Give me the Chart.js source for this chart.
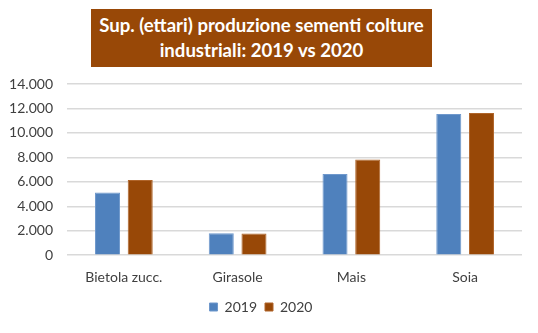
<!DOCTYPE html>
<html>
<head>
<meta charset="utf-8">
<script src="https://cdn.jsdelivr.net/npm/chart.js@4"></script>
<style>
    html, body { margin: 0; padding: 0; background: #fff; }
    .wrap { position: relative; width: 538px; height: 333px; }
    .titolo {
        position: absolute; left: 91px; top: 9px; width: 341px; height: 58px;
        background: #984807; color: #fff;
        font-family: Lato, "Open Sans", sans-serif; font-weight: bold; font-size: 18.6px;
        line-height: 25px; text-align: center;
        display: flex; align-items: center; justify-content: center;
        z-index: 2;
    }
    canvas { position: absolute; left: 0; top: 0; }
</style>
</head>
<body>
<div class="wrap">
    <div class="titolo">Sup. (ettari) produzione sementi colture<br>industriali: 2019 vs 2020</div>
    <canvas id="grafico" width="538" height="333"></canvas>
</div>
<script>
// dati
const colture = ['Bietola zucc.', 'Girasole', 'Mais', 'Soia'];
const valori2019 = [5130, 1790, 6650, 11550];
const valori2020 = [6150, 1780, 7820, 11630];

// separatore migliaia con il punto
const formatta = (v) => String(v).replace(/\B(?=(\d{3})+(?!\d))/g, '.');

const fontBase = { family: 'Lato, "Open Sans", sans-serif', size: 14 };

const ctx = document.getElementById('grafico').getContext('2d');
new Chart(ctx, {
    type: 'bar',
    data: {
        labels: colture,
        datasets: [
            {
                label: '2019',
                data: valori2019,
                backgroundColor: '#4f81bd',
                borderColor: '#6f98cc',
                borderWidth: 1,
                categoryPercentage: 0.575,
                barPercentage: 0.765
            },
            {
                label: '2020',
                data: valori2020,
                backgroundColor: '#984807',
                borderColor: '#b0652a',
                borderWidth: 1,
                categoryPercentage: 0.575,
                barPercentage: 0.765
            }
        ]
    },
    options: {
        responsive: false,
        animation: false,
        layout: { padding: { top: 84, right: 16, left: 0, bottom: 9 } },
        plugins: {
            legend: {
                position: 'bottom',
                labels: {
                    boxWidth: 8, boxHeight: 8, padding: 8,
                    color: '#404040', font: fontBase
                }
            },
            tooltip: { enabled: false }
        },
        scales: {
            y: {
                min: 0, max: 14000,
                ticks: {
                    stepSize: 2000, color: '#404040', font: fontBase, padding: 14,
                    callback: (v) => formatta(v)
                },
                grid: { color: '#d9d9d9', lineWidth: 1.5, drawTicks: false },
                border: { display: false },
                afterFit: (scale) => { scale.width = 67; }
            },
            x: {
                ticks: { color: '#404040', font: fontBase, padding: 6 },
                grid: { display: false },
                border: { display: false }
            }
        }
    }
});
</script>
</body>
</html>
